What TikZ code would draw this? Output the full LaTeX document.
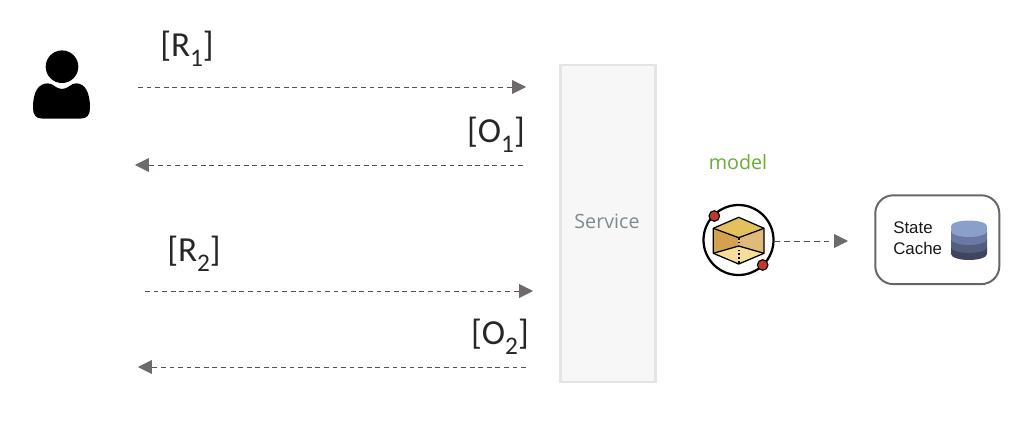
\documentclass[tikz,border=0pt]{standalone}
\usepackage{fontspec}
\setmainfont{Carlito}
\newfontfamily\labelfont{Open Sans}
\newfontfamily\cachefont{Liberation Sans}
\usetikzlibrary{arrows.meta, positioning, calc}
\definecolor{flowgray}{HTML}{6E6A6A}
\definecolor{flowdash}{HTML}{5A4E4E}
\definecolor{servicefill}{HTML}{F7F7F7}
\definecolor{serviceline}{HTML}{E4E4E4}
\definecolor{servicetext}{HTML}{7F8A8F}
\definecolor{modelgreen}{HTML}{6AAB34}
\definecolor{cubetop}{HTML}{E4C15E}
\definecolor{cubeleft}{HTML}{D5A050}
\definecolor{cuberight}{HTML}{E0BA7A}
\definecolor{cubefloor}{HTML}{F6DD98}
\definecolor{orbitred}{HTML}{C0392B}
\definecolor{diska}{HTML}{8A9FC9}
\definecolor{diskb}{HTML}{6B78A6}
\definecolor{diskc}{HTML}{535D7E}
\definecolor{diskd}{HTML}{3F4561}
\newcommand{\msgsub}[1]{\raisebox{-0.3em}{\fontsize{18}{18}\selectfont #1}}
\tikzset{
    flow/.style={draw=flowdash, dash pattern=on 3.4pt off 2.7pt, line width=0.6pt,
        -{Triangle[length=9.8pt, width=9.8pt, color=flowgray, fill=flowgray]}},
    msg/.style={font=\fontsize{25}{25}\selectfont, text=black!85, inner sep=0pt},
    orbitdot/.style={circle, fill=orbitred, draw=black, line width=0.8pt, minimum size=7.5pt, inner sep=0pt},
}
\begin{document}
\begin{tikzpicture}[x=0.025cm, y=-0.025cm]
    \useasboundingbox (0,0) rectangle (1020,437);

    % Nodes
    \node (user) at (62,85) [inner sep=0pt, minimum width=1.45cm, minimum height=1.7cm] {};
    \fill[black] (62,66.7) circle (16.3);
    \fill[black] (33,108)
        .. controls (33,92) and (38,83.5) .. (48,83.3)
        .. controls (53,83.3) and (56,89) .. (62,89)
        .. controls (68,89) and (71,83.3) .. (76,83.3)
        .. controls (85,83.5) and (90,92) .. (90,108)
        .. controls (90,115) and (87,118.5) .. (81,118.5)
        -- (42,118.5)
        .. controls (36,118.5) and (33,115) .. (33,108) -- cycle;

    \node (r1) at (187,49) [msg] {[R\msgsub{1}]};
    \node (o1) at (496,135) [msg] {[O\msgsub{1}]};
    \node (r2) at (194,254) [msg] {[R\msgsub{2}]};
    \node (o2) at (500,337) [msg] {[O\msgsub{2}]};

    \coordinate (r1start) at (138,87);
    \coordinate (r1end) at (526,87);
    \coordinate (o1start) at (523,165);
    \coordinate (o1end) at (135,165);
    \coordinate (r2start) at (145,291);
    \coordinate (r2end) at (533,291);
    \coordinate (o2start) at (526,367);
    \coordinate (o2end) at (138,367);

    \node (service) at (608,223.5) [draw=serviceline, fill=servicefill, line width=2pt, minimum width=2.36cm, minimum height=7.92cm] {};
    \node (servicelabel) at (607,221) [text=servicetext, font=\labelfont\fontsize{14}{14}\selectfont] {Service};

    \node (modellabel) at (738,162) [text=modelgreen, font=\labelfont\fontsize{14}{14}\selectfont] {model};

    \node (model) at (738.5,240) [circle, draw=black, line width=1.6pt, minimum size=1.75cm, inner sep=0pt] {};
    \fill[cubefloor] (713.3,253.3) -- (738.7,246) -- (764,253.3) -- (738.7,264) -- cycle;
    \fill[cubeleft] (713.3,228.3) -- (738.7,237.7) -- (738.7,246) -- (713.3,253.3) -- cycle;
    \fill[cuberight] (764,228.3) -- (738.7,237.7) -- (738.7,246) -- (764,253.3) -- cycle;
    \fill[cubetop] (713.3,228.3) -- (738.7,217.3) -- (764,228.3) -- (738.7,237.7) -- cycle;
    \draw[black, line width=0.9pt, line join=round] (713.3,228.3) -- (738.7,217.3) -- (764,228.3) -- (764,253.3)
        -- (738.7,264) -- (713.3,253.3) -- cycle;
    \draw[black, line width=0.9pt] (713.3,228.3) -- (738.7,237.7) -- (764,228.3);
    \draw[black, line width=0.9pt] (713.3,253.3) -- (738.7,246) -- (764,253.3);
    \draw[black, line width=1.3pt, dash pattern=on 1.3pt off 1.5pt] (738.7,237.7) -- (738.7,264);
    \node (orbita) at (714.3,216) [orbitdot] {};
    \node (orbitb) at (762.7,265) [orbitdot] {};

    \node (cache) at (937.3,239.7) [draw=black!60, line width=1.4pt, rounded corners=0.45cm, minimum width=3.1cm, minimum height=2.22cm] {};
    \node (cachetext) at (893,238.5) [anchor=west, align=left, inner sep=0pt, font=\cachefont\fontsize{12}{15}\selectfont, text=black!90] {State\\Cache};

    % Cylinder
    \fill[diskd] (951,247) -- (951,254) arc[start angle=180, end angle=0, x radius=18, y radius=6] -- (987,247) -- cycle;
    \fill[diskc] (951,239) -- (951,247) arc[start angle=180, end angle=0, x radius=18, y radius=6] -- (987,239) -- cycle;
    \fill[diskb] (951,231) -- (951,239) arc[start angle=180, end angle=0, x radius=18, y radius=6] -- (987,231) -- cycle;
    \fill[diska] (969,226) ellipse[x radius=18, y radius=5.5];
    \fill[diska] (951,226) rectangle (987,231);
    \fill[diska] (951,231) arc[start angle=180, end angle=0, x radius=18, y radius=6] -- cycle;

    \coordinate (cachein) at (848,241);

    % Edges
    \draw[flow] (r1start) -- (r1end);
    \draw[flow] (o1start) -- (o1end);
    \draw[flow] (r2start) -- (r2end);
    \draw[flow] (o2start) -- (o2end);
    \draw[flow, dash pattern=on 4pt off 3pt] (model.east |- cachein) -- (cachein);
\end{tikzpicture}
\end{document}
